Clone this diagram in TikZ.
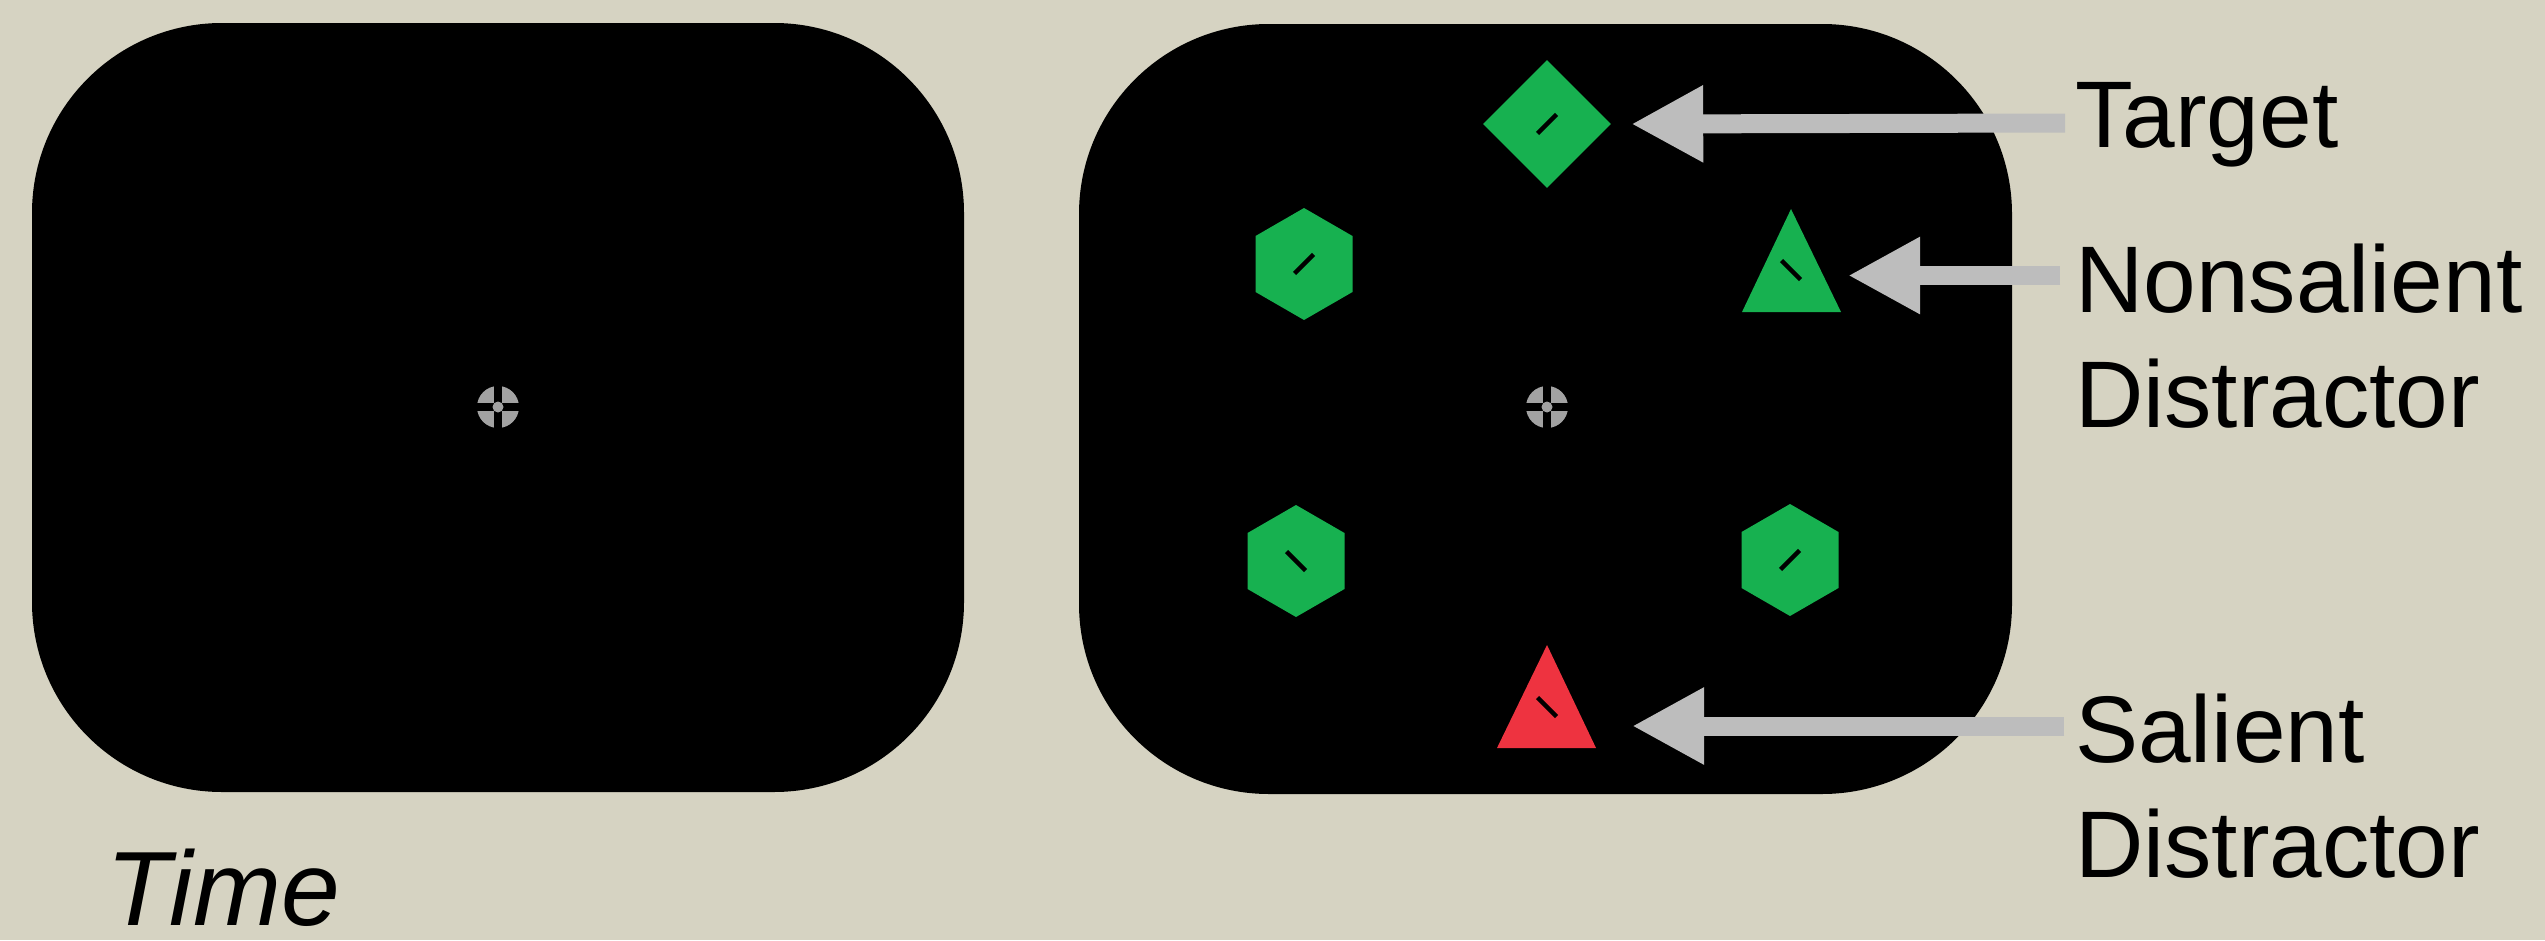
\documentclass[tikz,border=0pt]{standalone}
\usepackage{fontspec}
\setmainfont{Liberation Sans}
\usetikzlibrary{arrows.meta,shapes.geometric}
\definecolor{Canvas}{HTML}{D6D3C2}
\definecolor{StimGreen}{HTML}{17B150}
\definecolor{StimRed}{HTML}{EE3340}
\definecolor{Pointer}{HTML}{BDBDBD}
\definecolor{FixGray}{HTML}{A2A2A2}
\newcommand{\screenbox}[4]{
  \fill[black,rounded corners=190bp] (#1,#2) rectangle (#3,#4);
}
\newcommand{\fixmark}[2]{
  \fill[FixGray] (#1,#2) circle (21bp);
  \fill[black] (#1-4,#2-22) rectangle (#1+4,#2+22);
  \fill[black] (#1-22,#2-4) rectangle (#1+22,#2+4);
  \fill[FixGray] (#1,#2) circle (5.5bp);
}
% #3 = 9.5 gives a bar like /, -9.5 one like \
\newcommand{\tiltbar}[3]{
  \draw[black,line width=4.5bp] (#1,#2) +(-9.5,#3) -- +(9.5,{-(#3)});
}

\begin{document}
\begin{tikzpicture}[x=1bp,y=-1bp,
  hexstim/.style={regular polygon,regular polygon sides=6,shape border rotate=30,
    minimum size=112bp,inner sep=0pt,fill=StimGreen},
  diamstim/.style={diamond,minimum width=128bp,minimum height=128bp,
    inner sep=0pt,fill=StimGreen},
  pointer/.style={draw=Pointer,line width=19bp,-{Triangle[length=72bp,width=72bp]}},
  tag/.style={font=\fontsize{95}{115}\selectfont,align=left,inner sep=0pt,anchor=base west}]
  \path[use as bounding box] (0,0) rectangle (2545,940);
  \fill[Canvas] (0,0) rectangle (2545,940);

  % fixation screen, then search screen
  \screenbox{32}{23}{964}{792}
  \screenbox{1079}{24}{2012}{794}
  \fixmark{498}{407}
  \fixmark{1547}{407}

  % search items
  \node[diamstim] (target) at (1547,124) {};
  \node[hexstim] (hexA) at (1304,264) {};
  \node[hexstim] (hexB) at (1296,561) {};
  \node[hexstim] (hexC) at (1790,560) {};
  \fill[StimGreen] (1791,209) -- (1841,312) -- (1742,312) -- cycle;
  \fill[StimRed] (1547,645) -- (1596,748) -- (1497,748) -- cycle;
  \tiltbar{1547}{124}{9.5}
  \tiltbar{1304}{264}{9.5}
  \tiltbar{1296}{561}{-9.5}
  \tiltbar{1790}{560}{9.5}
  \tiltbar{1791}{270}{-9.5}
  \tiltbar{1547}{707}{-9.5}

  % labels and pointers (base = last line of a two-line tag)
  \node[tag] (tgtLabel) at (2075,147) {Target};
  \node[tag] (nonsalLabel) at (2075,427) {Nonsalient\\Distractor};
  \node[tag] (salLabel) at (2075,877) {Salient\\Distractor};
  \node[font=\fontsize{106}{106}\selectfont\itshape,inner sep=0pt,anchor=base west]
    (timeLabel) at (106,925) {Time};
  \coordinate (tgtTail) at (2065,123);
  \coordinate (tgtTip) at ([xshift=20bp]target.east);
  \coordinate (nonsalTail) at (2060,275.5);
  \coordinate (nonsalTip) at (1848,275.5);
  \coordinate (salTail) at (2064,726);
  \coordinate (salTip) at (1632,726);
  \draw[pointer] (tgtTail) -- (tgtTip);
  \draw[pointer] (nonsalTail) -- (nonsalTip);
  \draw[pointer] (salTail) -- (salTip);
\end{tikzpicture}
\end{document}
